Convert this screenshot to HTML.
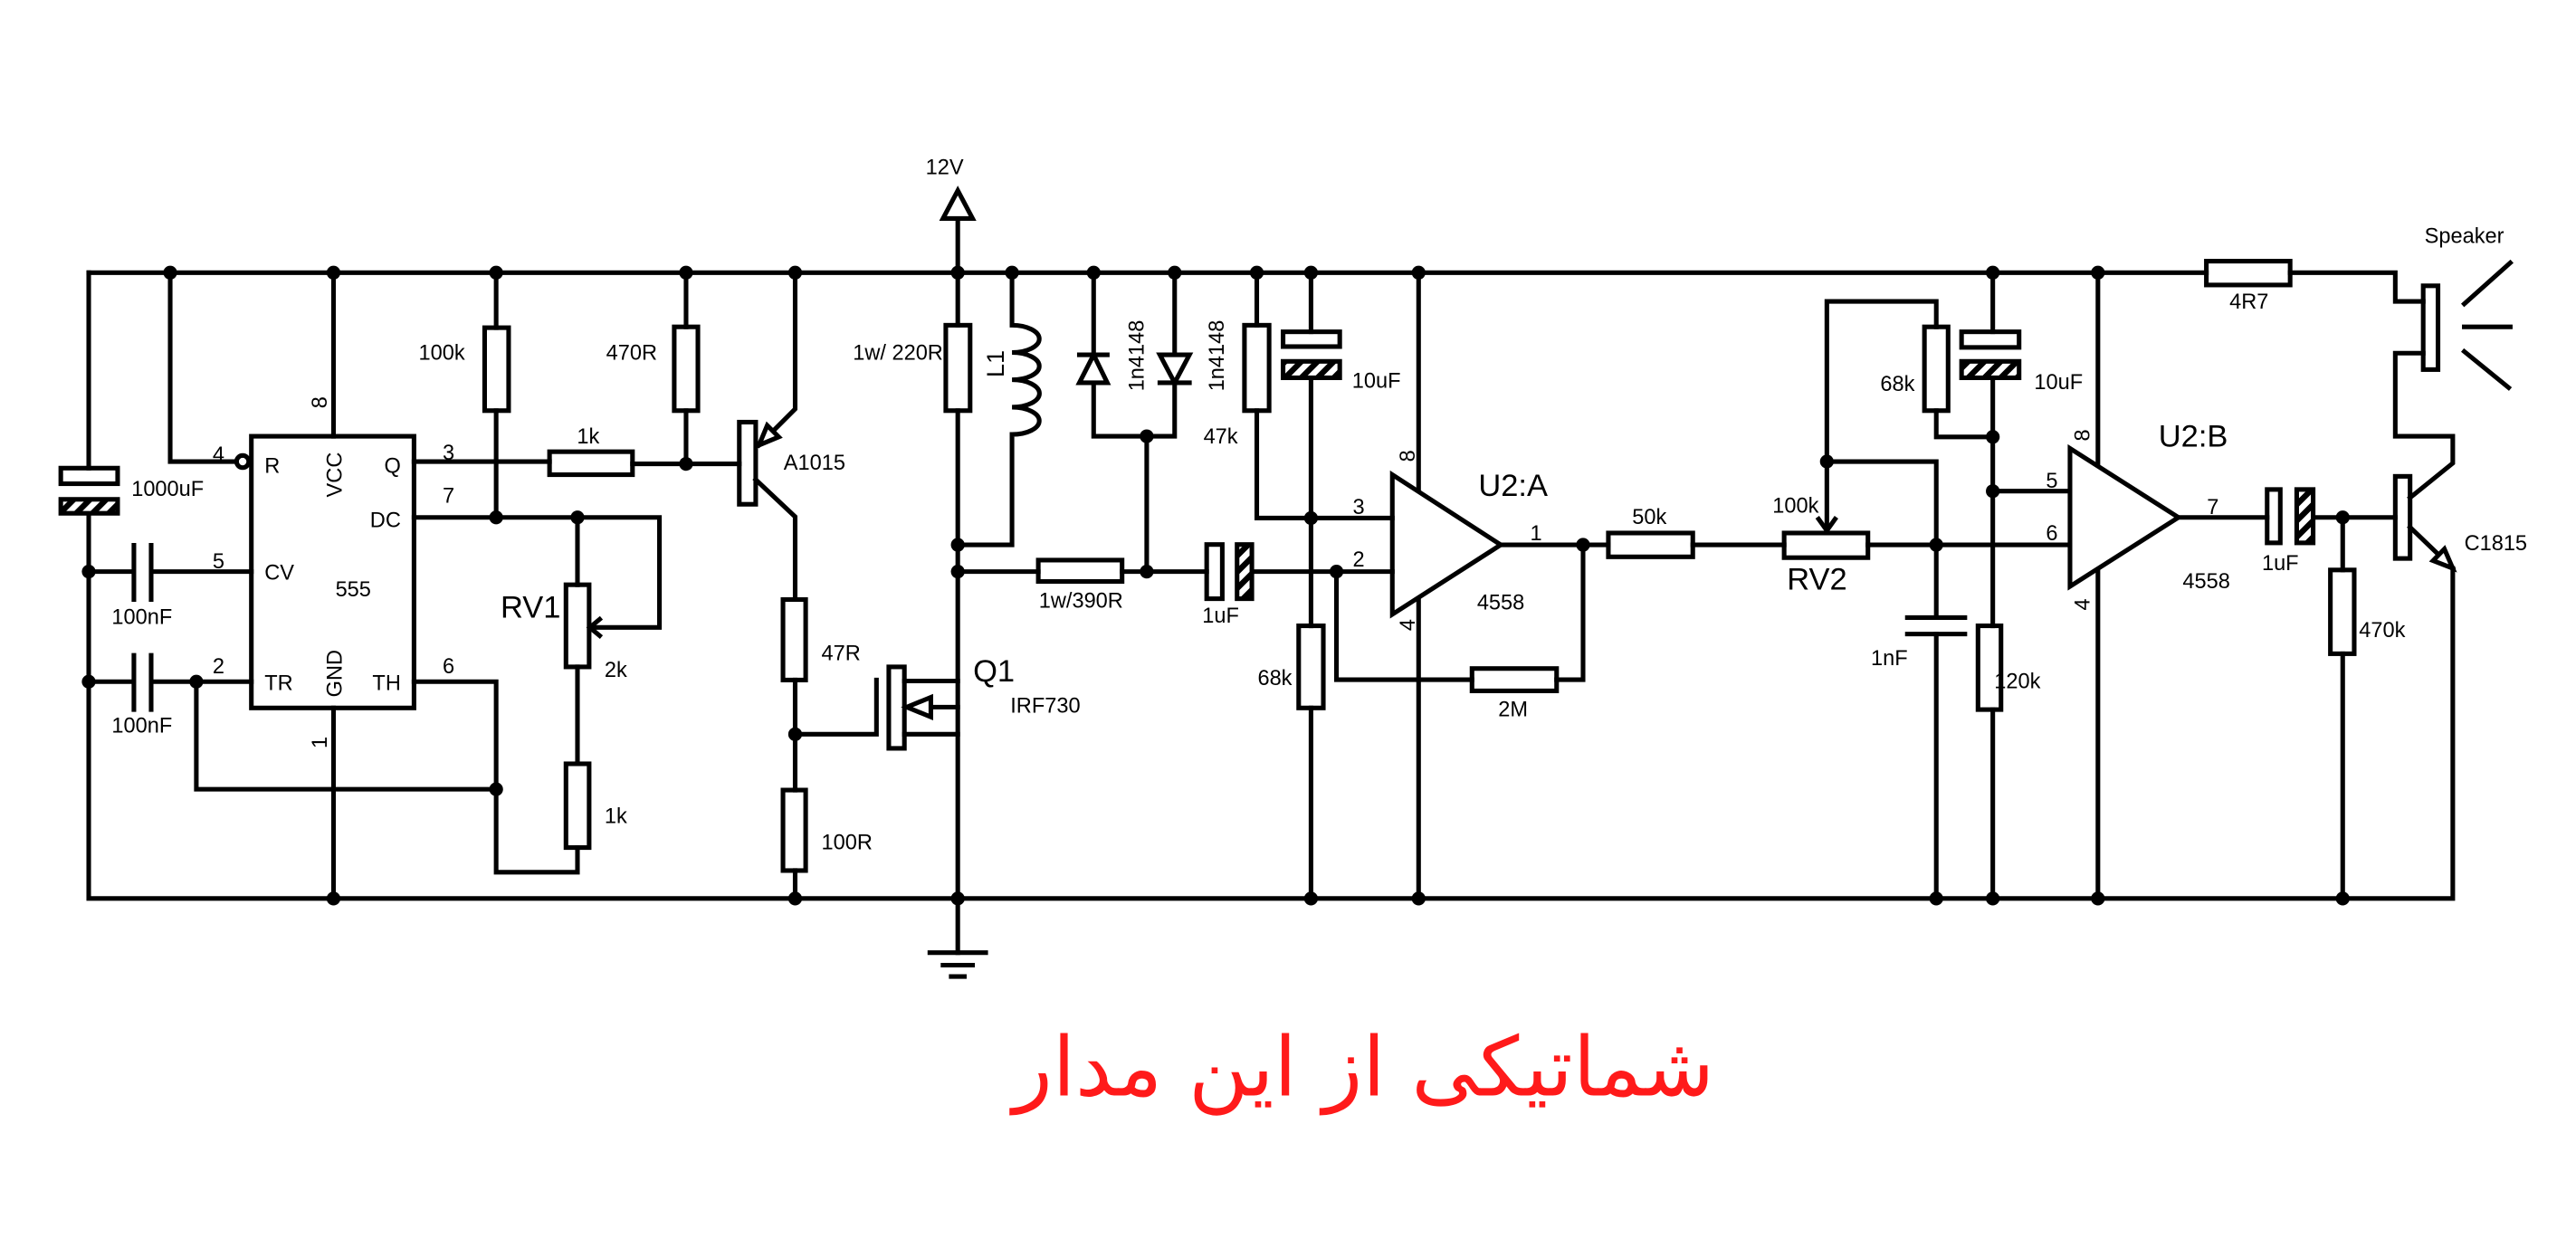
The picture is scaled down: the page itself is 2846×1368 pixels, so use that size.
<!DOCTYPE html>
<html><head><meta charset="utf-8"><style>
html,body{margin:0;padding:0;background:#fff;}
svg{display:block}
text{font-family:"Liberation Sans",sans-serif;fill:#000;}
</style></head><body>
<svg width="2846" height="1368" viewBox="0 0 1568 753.7" xmlns="http://www.w3.org/2000/svg">
<defs>
<pattern id="h" patternUnits="userSpaceOnUse" width="7" height="7" patternTransform="rotate(45)">
<rect width="7" height="7" fill="#fff"/><rect width="3.5" height="7" fill="#000"/>
</pattern>
</defs>
<rect width="1568" height="753.7" fill="#fff"/>
<g stroke="#000" stroke-width="2.8" fill="none" stroke-linecap="square">
<path d="M54,166H1343M1394,166H1458V183.5H1475M1458,215H1475M1458,215V265.6H1493V282L1467,303"/>
<path d="M54,166V285M54,312.5V547H1493V346"/>
<path d="M103.6,166V281H144"/>
<circle cx="147.7" cy="281" r="3.7"/>
<rect x="153" y="265.6" width="99" height="165.4"/>
<path d="M54,348H81.5M92,348H153M81.5,332V365M92,332V365"/>
<path d="M54,415H81.5M92,415H153M81.5,399V432M92,399V432"/>
<path d="M119.5,415V480.5H302"/>
<path d="M203,166V265.6M203,431V547"/>
<path d="M252,281H334.5M385,282.4H450"/>
<rect x="334.5" y="275" width="50.5" height="14"/>
<path d="M252,315H401.4V382H360"/>
<path d="M365,377L359,382L365,387"/>
<path d="M302,166V199.5M302,250V315"/>
<rect x="295" y="199.5" width="14.6" height="50.5"/>
<path d="M252,415H302V531H351.5V516M351.5,315V356M351.5,406V465"/>
<rect x="344.5" y="356" width="14.1" height="50"/>
<rect x="344.5" y="465" width="14.1" height="51"/>
<path d="M417.6,166V199M417.6,250V282.4"/>
<rect x="410.4" y="199" width="14.4" height="51"/>
<rect x="450" y="257" width="10" height="50"/>
<path d="M484,166V249L462,271"/>
<path d="M462,271L474,266L467,259Z" fill="#fff"/>
<path d="M460,292L484,314.6V365M484,414V481M484,530V547"/>
<rect x="476.6" y="365" width="13.8" height="49"/>
<rect x="476.6" y="481" width="13.8" height="49"/>
<path d="M484,447H533.5V414"/>
<rect x="541" y="406" width="9.5" height="49.6"/>
<path d="M550.5,414.6H583M550.5,447H583M583,430.5H566.6"/>
<path d="M552,430.5L566.6,424.5V436.5Z" fill="#fff"/>
<path d="M583,133V198M583,250V580"/>
<path d="M583,116L574,133H592Z" fill="#fff"/>
<rect x="575.7" y="198" width="14.8" height="52"/>
<path d="M566,580H600M574,587.6H592M579,594.5H587"/>
<path d="M616,166V198A16.6,8.3 0 0 1 616,214.6A16.6,8.3 0 0 1 616,231.2A16.6,8.3 0 0 1 616,247.9A16.6,8.3 0 0 1 616,264.5V331.7H583"/>
<path d="M583,348H632M683,348H734.5M762,348H847.5"/>
<rect x="632" y="341" width="51" height="13"/>
<rect x="734.5" y="331.5" width="9.5" height="33"/>
<rect x="753" y="331.5" width="9" height="33" fill="url(#h)"/>
<path d="M665.7,166V265.6H715V166M698,265.6V348"/>
<path d="M665.7,216L657,233H674Z" fill="#fff"/>
<path d="M657,216H674"/>
<path d="M715,233L706,216H724Z" fill="#fff"/>
<path d="M706,233H724"/>
<path d="M765,166V198M765,250V315.4H847.5"/>
<rect x="757.5" y="198" width="15" height="52"/>
<path d="M798,166V202M798,230V381M798,431V547"/>
<rect x="781" y="202" width="34.5" height="9"/>
<rect x="781" y="220" width="34.5" height="10" fill="url(#h)"/>
<rect x="790.5" y="381" width="15" height="50"/>
<path d="M813.5,348V413.8H896M947.5,413.8H963.6V331.7"/>
<rect x="896" y="407" width="51.5" height="13.6"/>
<path d="M847.5,289V374L913.5,331.7Z"/>
<path d="M863.5,166V298.6M863.5,364.7V547"/>
<path d="M913.5,331.7H979M1030.4,331.7H1086M1137,331.7H1260"/>
<rect x="979" y="324.5" width="51.4" height="14.5"/>
<rect x="1086" y="324.5" width="51" height="15"/>
<path d="M1112,322V183.5H1178.6V199M1178.6,250V266H1213M1112,281H1178.6V376M1178.6,386V547"/>
<path d="M1107,316L1112,323L1117,316"/>
<rect x="1171.4" y="199" width="14.4" height="51"/>
<path d="M1161,376H1196M1161,386H1196"/>
<path d="M1213,166V202M1213,230V381M1213,432V547M1213,299H1260"/>
<rect x="1194" y="202" width="35" height="9.5"/>
<rect x="1194" y="220" width="35" height="10" fill="url(#h)"/>
<rect x="1204" y="381" width="14" height="51"/>
<path d="M1260,273V357L1326,315Z"/>
<path d="M1277,166V283M1277,348V547"/>
<path d="M1326,315H1380M1408,315H1458M1426,315V347M1426,398V547"/>
<rect x="1380" y="298" width="8" height="32.5"/>
<rect x="1398" y="298" width="10" height="32.5" fill="url(#h)"/>
<rect x="1418.5" y="347" width="14.5" height="51"/>
<rect x="1343" y="159" width="51" height="14.5"/>
<rect x="1458" y="290" width="9" height="50"/>
<path d="M1467,321L1493,346"/>
<path d="M1493,346L1481,341.3L1487.9,334.2Z" fill="#fff"/>
<rect x="1475" y="174" width="9" height="51"/>
<path d="M1500,185L1528,160M1500,199H1528M1500,214L1527,236"/>
<rect x="37" y="285" width="34.6" height="9.5"/>
<rect x="37" y="304" width="34.6" height="8.5" fill="url(#h)"/>
</g>
<g fill="#000">
<circle cx="103.6" cy="166" r="4.2"/><circle cx="203" cy="166" r="4.2"/><circle cx="302" cy="166" r="4.2"/><circle cx="417.6" cy="166" r="4.2"/><circle cx="484" cy="166" r="4.2"/><circle cx="583" cy="166" r="4.2"/><circle cx="616" cy="166" r="4.2"/><circle cx="665.7" cy="166" r="4.2"/><circle cx="715" cy="166" r="4.2"/><circle cx="765" cy="166" r="4.2"/><circle cx="798" cy="166" r="4.2"/><circle cx="863.5" cy="166" r="4.2"/><circle cx="1213" cy="166" r="4.2"/><circle cx="1277" cy="166" r="4.2"/>
<circle cx="203" cy="547" r="4.2"/><circle cx="484" cy="547" r="4.2"/><circle cx="583" cy="547" r="4.2"/><circle cx="798" cy="547" r="4.2"/><circle cx="863.5" cy="547" r="4.2"/><circle cx="1178.6" cy="547" r="4.2"/><circle cx="1213" cy="547" r="4.2"/><circle cx="1277" cy="547" r="4.2"/><circle cx="1426" cy="547" r="4.2"/>
<circle cx="54" cy="348" r="4.2"/><circle cx="54" cy="415" r="4.2"/><circle cx="119.5" cy="415" r="4.2"/><circle cx="302" cy="480.5" r="4.2"/><circle cx="302" cy="315" r="4.2"/><circle cx="351.5" cy="315" r="4.2"/><circle cx="417.6" cy="282.4" r="4.2"/><circle cx="484" cy="447" r="4.2"/><circle cx="583" cy="331.7" r="4.2"/><circle cx="583" cy="348" r="4.2"/><circle cx="698" cy="265.6" r="4.2"/><circle cx="698" cy="348" r="4.2"/><circle cx="813.5" cy="348" r="4.2"/><circle cx="798" cy="315.4" r="4.2"/><circle cx="963.6" cy="331.7" r="4.2"/><circle cx="1178.6" cy="331.7" r="4.2"/><circle cx="1112" cy="281" r="4.2"/><circle cx="1213" cy="266" r="4.2"/><circle cx="1213" cy="299" r="4.2"/><circle cx="1426" cy="315" r="4.2"/>
</g>
<g font-size="13">
<text x="133" y="281" text-anchor="middle">4</text>
<text x="273" y="280" text-anchor="middle">3</text>
<text x="273" y="306" text-anchor="middle">7</text>
<text x="133" y="346" text-anchor="middle">5</text>
<text x="133" y="410" text-anchor="middle">2</text>
<text x="273" y="410" text-anchor="middle">6</text>
<text transform="translate(199,245) rotate(-90)" text-anchor="middle">8</text>
<text transform="translate(199,452) rotate(-90)" text-anchor="middle">1</text>
<text x="161" y="288">R</text>
<text x="161" y="353">CV</text>
<text x="161" y="420">TR</text>
<text x="244" y="288" text-anchor="end">Q</text>
<text x="244" y="321" text-anchor="end">DC</text>
<text x="244" y="420" text-anchor="end">TH</text>
<text x="215" y="363" text-anchor="middle">555</text>
<text transform="translate(208,289) rotate(-90)" text-anchor="middle">VCC</text>
<text transform="translate(208,410) rotate(-90)" text-anchor="middle">GND</text>
<text x="80" y="302">1000uF</text>
<text x="68" y="380">100nF</text>
<text x="68" y="446">100nF</text>
<text x="283" y="219" text-anchor="end">100k</text>
<text x="400" y="219" text-anchor="end">470R</text>
<text x="358" y="270" text-anchor="middle">1k</text>
<text x="368" y="412">2k</text>
<text x="368" y="501">1k</text>
<text x="477" y="286">A1015</text>
<text x="500" y="402">47R</text>
<text x="500" y="517">100R</text>
<text x="575" y="106" text-anchor="middle">12V</text>
<text x="574" y="219" text-anchor="end">1w/ 220R</text>
<text x="615" y="434">IRF730</text>
<text transform="translate(696,216.5) rotate(-90)" text-anchor="middle">1n4148</text>
<text transform="translate(745,216.5) rotate(-90)" text-anchor="middle">1n4148</text>
<text x="743" y="270" text-anchor="middle">47k</text>
<text x="658" y="370" text-anchor="middle">1w/390R</text>
<text x="743" y="379" text-anchor="middle">1uF</text>
<text x="823" y="236">10uF</text>
<text x="827" y="313" text-anchor="middle">3</text>
<text x="827" y="345" text-anchor="middle">2</text>
<text x="935" y="329" text-anchor="middle">1</text>
<text transform="translate(861,277.6) rotate(-90)" text-anchor="middle">8</text>
<text transform="translate(861,380.5) rotate(-90)" text-anchor="middle">4</text>
<text x="913.5" y="371" text-anchor="middle">4558</text>
<text x="776" y="417" text-anchor="middle">68k</text>
<text x="921" y="436" text-anchor="middle">2M</text>
<text x="1004" y="319" text-anchor="middle">50k</text>
<text x="1093" y="312" text-anchor="middle">100k</text>
<text x="1155" y="238" text-anchor="middle">68k</text>
<text x="1253" y="237" text-anchor="middle">10uF</text>
<text x="1150" y="405" text-anchor="middle">1nF</text>
<text x="1228" y="419" text-anchor="middle">120k</text>
<text x="1249" y="297" text-anchor="middle">5</text>
<text x="1249" y="329" text-anchor="middle">6</text>
<text x="1347" y="313" text-anchor="middle">7</text>
<text transform="translate(1272,265) rotate(-90)" text-anchor="middle">8</text>
<text transform="translate(1272,368) rotate(-90)" text-anchor="middle">4</text>
<text x="1343" y="358" text-anchor="middle">4558</text>
<text x="1388" y="347" text-anchor="middle">1uF</text>
<text x="1450" y="388" text-anchor="middle">470k</text>
<text x="1369" y="188" text-anchor="middle">4R7</text>
<text x="1500" y="148" text-anchor="middle">Speaker</text>
<text x="1500" y="335">C1815</text>
</g>
<g font-size="19">
<text x="323" y="376" text-anchor="middle">RV1</text>
<text transform="translate(611,221.5) rotate(-90)" text-anchor="middle" font-size="15">L1</text>
<text x="605" y="415" text-anchor="middle">Q1</text>
<text x="921" y="302" text-anchor="middle">U2:A</text>
<text x="1106" y="359" text-anchor="middle">RV2</text>
<text x="1335" y="272" text-anchor="middle">U2:B</text>
</g>
<text x="830" y="667" text-anchor="middle" font-size="50" style="font-family:'DejaVu Sans',sans-serif;fill:#ff1a1a" direction="rtl">شماتیکی از این مدار</text>
</svg>
</body></html>
